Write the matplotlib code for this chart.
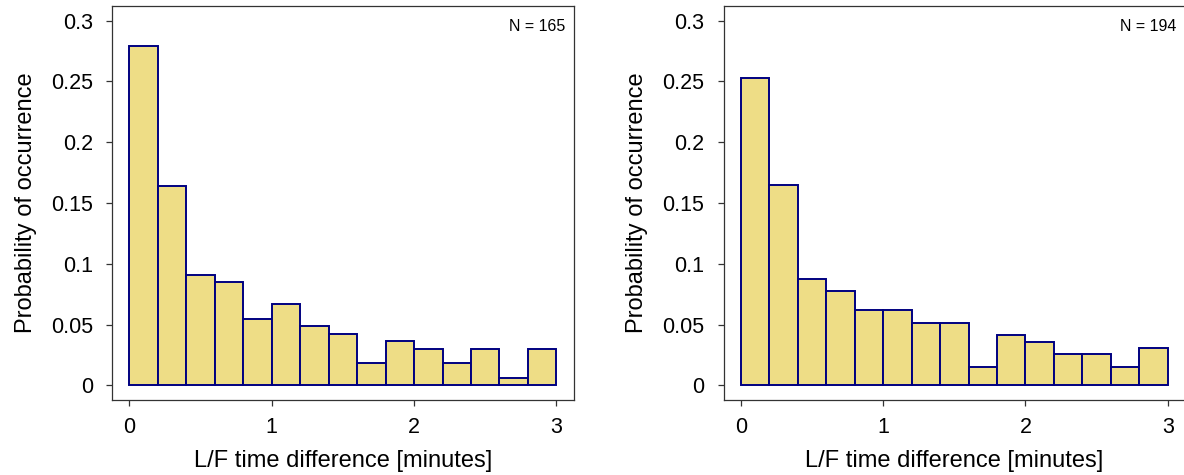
import numpy as np
import matplotlib
matplotlib.use("Agg")
import matplotlib.pyplot as plt

plt.rcParams['font.family'] = ['Liberation Sans', 'DejaVu Sans']

# histogram bins: 0 to 3 minutes, width 0.2
bin_edges = np.round(np.arange(0, 3.01, 0.2), 2)

# counts per bin
counts_left = [46, 27, 15, 14, 9, 11, 8, 7, 3, 6, 5, 3, 5, 1, 5]
n_left = 165
counts_right = [49, 32, 17, 15, 12, 12, 10, 10, 3, 8, 7, 5, 5, 3, 6]
n_right = 194

x_ticks = [0, 1, 2, 3]
y_ticks = [0, 0.05, 0.1, 0.15, 0.2, 0.25, 0.3]
y_tick_labels = ['0', '0.05', '0.1', '0.15', '0.2', '0.25', '0.3']

fill_col = '#EEDD86'
edge_col = '#000080'

fig = plt.figure(figsize=(11.84, 4.75), dpi=100)
ax_left = fig.add_axes([0.0948, 0.1579, 0.3896, 0.8295])
ax_right = fig.add_axes([0.6112, 0.1579, 0.3896, 0.8295])

for ax, counts, n in [(ax_left, counts_left, n_left), (ax_right, counts_right, n_right)]:
    prob = np.array(counts) / n
    ax.bar(bin_edges[:-1], prob, width=0.2, align='edge',
           color=fill_col, edgecolor=edge_col, linewidth=1.4)
    ax.set_xlim(-0.12, 3.12)
    ax.set_ylim(-0.012, 0.312)
    ax.set_xticks(x_ticks)
    ax.set_xticklabels([str(t) for t in x_ticks])
    ax.set_yticks(y_ticks)
    ax.set_yticklabels(y_tick_labels)
    ax.tick_params(axis='both', direction='out', length=4, width=0.9,
                   labelsize=15.5, color='#333333')
    ax.tick_params(axis='x', pad=8)
    ax.tick_params(axis='y', pad=10)
    for sp in ax.spines.values():
        sp.set_color('#333333')
        sp.set_linewidth(0.9)
    ax.set_xlabel('L/F time difference [minutes]', fontsize=17)
    ax.set_ylabel('Probability of occurrence', fontsize=17)
    ax.xaxis.set_label_coords(0.5, -0.128)
    ax.yaxis.set_label_coords(-0.163, 0.5)
    ax.text(0.981, 0.948, 'N = {}'.format(n), transform=ax.transAxes,
            ha='right', va='center', fontsize=11.5)

fig.savefig('out.png', dpi=100)
